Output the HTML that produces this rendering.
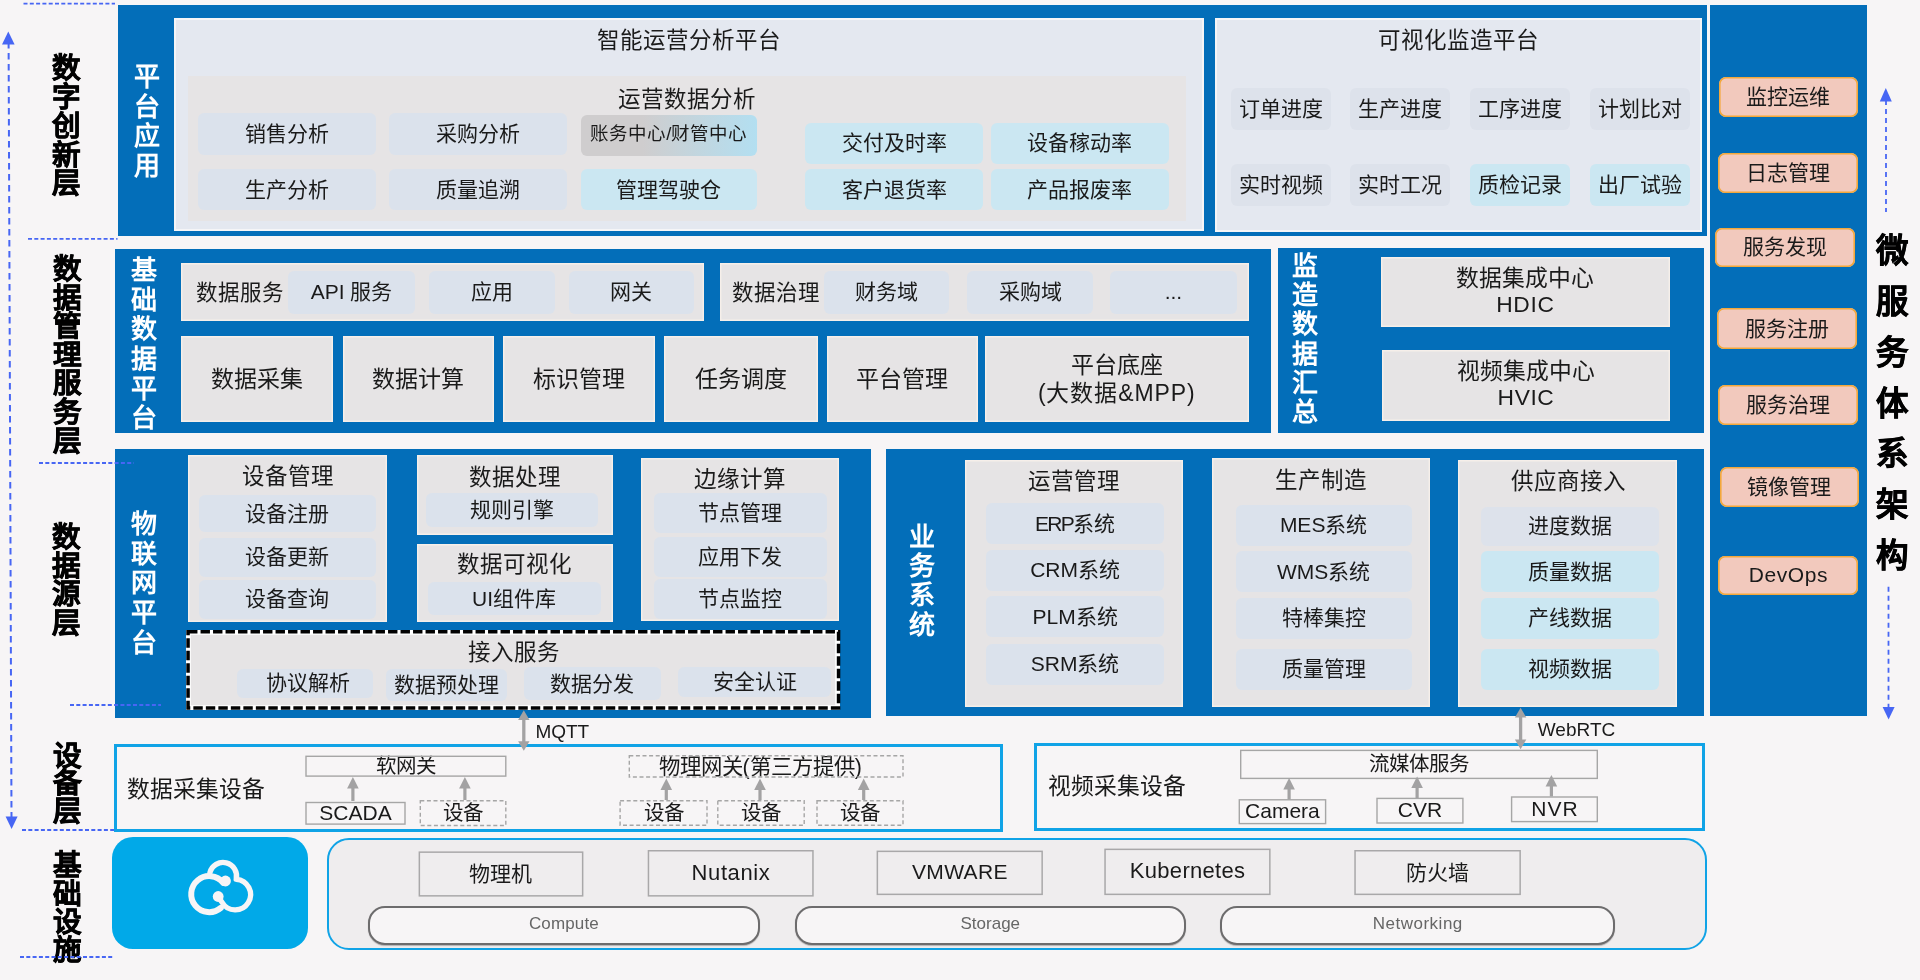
<!DOCTYPE html>
<html lang="zh-CN">
<head>
<meta charset="utf-8">
<title>架构图</title>
<style>
html,body{margin:0;padding:0;}
body{width:1920px;height:980px;overflow:hidden;background:#f7f5f6;font-family:"Liberation Sans",sans-serif;color:#1a1a1a;}
#p{position:relative;width:1920px;height:980px;overflow:hidden;will-change:transform;opacity:.999;}
#p div{position:absolute;white-space:nowrap;}
#p .c{display:flex;align-items:center;justify-content:center;text-align:center;}
#p svg{position:absolute;left:0;top:0;}
</style>
</head>
<body>
<div id="p">
<div style="left:118px;top:4.7px;width:1589px;height:231.3px;background:#036eb9;"></div>
<div style="left:173.5px;top:18px;width:1030.5px;height:212.5px;background:#e4e8f0;box-shadow:inset 0 0 0 2px #f5f5f7;"></div>
<div style="left:187.5px;top:75.5px;width:998px;height:145px;background:#e6e4e5;"></div>
<div class="c" style="left:489px;top:20px;width:400px;height:40px;font-size:22.5px;box-sizing:border-box;padding-bottom:4px;">智能运营分析平台</div>
<div class="c" style="left:487px;top:79px;width:400px;height:40px;font-size:22.5px;box-sizing:border-box;padding-bottom:4px;">运营数据分析</div>
<div class="c" style="left:198px;top:113px;width:178px;height:41.5px;background:#dbe2ec;border-radius:6px;font-size:21px;box-sizing:border-box;padding-bottom:4px;">销售分析</div>
<div class="c" style="left:389px;top:113px;width:178px;height:41.5px;background:#dbe2ec;border-radius:6px;font-size:21px;box-sizing:border-box;padding-bottom:4px;">采购分析</div>
<div class="c" style="left:198px;top:169px;width:178px;height:41px;background:#dbe2ec;border-radius:6px;font-size:21px;box-sizing:border-box;padding-bottom:4px;">生产分析</div>
<div class="c" style="left:389px;top:169px;width:178px;height:41px;background:#dbe2ec;border-radius:6px;font-size:21px;box-sizing:border-box;padding-bottom:4px;">质量追溯</div>
<div class="c" style="left:580.5px;top:114.5px;width:176.5px;height:41.5px;background:linear-gradient(90deg,#cfcdce 0%,#cfcdce 35%,#b3dff1 100%);border-radius:6px;font-size:18.5px;box-sizing:border-box;padding-bottom:6.4px;">账务中心/财管中心</div>
<div class="c" style="left:580.5px;top:169px;width:176.5px;height:41px;background:#cbe7f2;border-radius:6px;font-size:21px;box-sizing:border-box;padding-bottom:4px;">管理驾驶仓</div>
<div class="c" style="left:805px;top:122.5px;width:178px;height:41.5px;background:#cbe7f2;border-radius:6px;font-size:21px;box-sizing:border-box;padding-bottom:4px;">交付及时率</div>
<div class="c" style="left:990.5px;top:122.5px;width:178.5px;height:41.5px;background:#cbe7f2;border-radius:6px;font-size:21px;box-sizing:border-box;padding-bottom:4px;">设备稼动率</div>
<div class="c" style="left:805px;top:169px;width:178px;height:41px;background:#cbe7f2;border-radius:6px;font-size:21px;box-sizing:border-box;padding-bottom:4px;">客户退货率</div>
<div class="c" style="left:990.5px;top:169px;width:178.5px;height:41px;background:#cbe7f2;border-radius:6px;font-size:21px;box-sizing:border-box;padding-bottom:4px;">产品报废率</div>
<div style="left:117px;top:63px;width:60px;font-size:26px;line-height:29.5px;color:#fff;font-weight:bold;text-align:center;">平<br>台<br>应<br>用</div>
<div style="left:1214.5px;top:18px;width:487.7px;height:213.5px;background:#e4e8f0;box-shadow:inset 0 0 0 2px #f5f5f7;"></div>
<div class="c" style="left:1258px;top:20px;width:400px;height:40px;font-size:22.5px;box-sizing:border-box;padding-bottom:4px;">可视化监造平台</div>
<div class="c" style="left:1230.5px;top:88px;width:100.5px;height:41.5px;background:#dde2eb;border-radius:6px;font-size:21px;box-sizing:border-box;padding-bottom:4px;">订单进度</div>
<div class="c" style="left:1350px;top:88px;width:100px;height:41.5px;background:#dde2eb;border-radius:6px;font-size:21px;box-sizing:border-box;padding-bottom:4px;">生产进度</div>
<div class="c" style="left:1470px;top:88px;width:99.5px;height:41.5px;background:#dde2eb;border-radius:6px;font-size:21px;box-sizing:border-box;padding-bottom:4px;">工序进度</div>
<div class="c" style="left:1589.5px;top:88px;width:100.5px;height:41.5px;background:#dde2eb;border-radius:6px;font-size:21px;box-sizing:border-box;padding-bottom:4px;">计划比对</div>
<div class="c" style="left:1230.5px;top:164px;width:100.5px;height:41.5px;background:#dde2eb;border-radius:6px;font-size:21px;box-sizing:border-box;padding-bottom:4px;">实时视频</div>
<div class="c" style="left:1350px;top:164px;width:100px;height:41.5px;background:#dde2eb;border-radius:6px;font-size:21px;box-sizing:border-box;padding-bottom:4px;">实时工况</div>
<div class="c" style="left:1470px;top:164px;width:99.5px;height:41.5px;background:#cbe7f2;border-radius:6px;font-size:21px;box-sizing:border-box;padding-bottom:4px;">质检记录</div>
<div class="c" style="left:1589.5px;top:164px;width:100.5px;height:41.5px;background:#cbe7f2;border-radius:6px;font-size:21px;box-sizing:border-box;padding-bottom:4px;">出厂试验</div>
<div style="left:1710.2px;top:4.7px;width:156.4px;height:711.3px;background:#036eb9;"></div>
<div class="c" style="left:1718.7px;top:77px;width:139.3px;height:40.4px;background:#f2c9bd;border-radius:7px;font-size:21px;box-sizing:border-box;padding-bottom:4px;box-shadow:inset 0 0 0 1.6px #f3a83b;">监控运维</div>
<div class="c" style="left:1718.3px;top:153px;width:139.7px;height:39.6px;background:#f2c9bd;border-radius:7px;font-size:21px;box-sizing:border-box;padding-bottom:4px;box-shadow:inset 0 0 0 1.6px #f3a83b;">日志管理</div>
<div class="c" style="left:1715.2px;top:227.8px;width:139.8px;height:39.2px;background:#f2c9bd;border-radius:7px;font-size:21px;box-sizing:border-box;padding-bottom:4px;box-shadow:inset 0 0 0 1.6px #f3a83b;">服务发现</div>
<div class="c" style="left:1716.7px;top:308.4px;width:140.3px;height:40.3px;background:#f2c9bd;border-radius:7px;font-size:21px;box-sizing:border-box;padding-bottom:4px;box-shadow:inset 0 0 0 1.6px #f3a83b;">服务注册</div>
<div class="c" style="left:1718.3px;top:385px;width:139.7px;height:40.3px;background:#f2c9bd;border-radius:7px;font-size:21px;box-sizing:border-box;padding-bottom:4px;box-shadow:inset 0 0 0 1.6px #f3a83b;">服务治理</div>
<div class="c" style="left:1719.8px;top:467.3px;width:139.2px;height:39.7px;background:#f2c9bd;border-radius:7px;font-size:21px;box-sizing:border-box;padding-bottom:4px;box-shadow:inset 0 0 0 1.6px #f3a83b;">镜像管理</div>
<div class="c" style="left:1718.3px;top:555.5px;width:139.7px;height:39.8px;background:#f2c9bd;border-radius:7px;font-size:21px;box-sizing:border-box;padding-bottom:1px;letter-spacing:0.6px;padding-left:0.6px;box-shadow:inset 0 0 0 1.6px #f3a83b;">DevOps</div>
<div style="left:1862px;top:226.2px;width:60px;font-size:32.5px;line-height:50.8px;color:#000;font-weight:bold;text-align:center;-webkit-text-stroke:0.6px #000;">微<br>服<br>务<br>体<br>系<br>架<br>构</div>
<div style="left:115px;top:249px;width:1155.7px;height:184px;background:#036eb9;"></div>
<div style="left:181.3px;top:263px;width:522.7px;height:58.4px;background:#e6e4e5;box-shadow:inset 0 0 0 1.4px #f6efea;"></div>
<div style="left:720px;top:263px;width:529px;height:58.4px;background:#e6e4e5;box-shadow:inset 0 0 0 1.4px #f6efea;"></div>
<div class="c" style="left:40px;top:272.5px;width:400px;height:40px;font-size:21.5px;box-sizing:border-box;padding-bottom:4px;">数据服务</div>
<div class="c" style="left:576px;top:272.5px;width:400px;height:40px;font-size:21.5px;box-sizing:border-box;padding-bottom:4px;">数据治理</div>
<div class="c" style="left:288px;top:270.5px;width:127px;height:43.3px;background:#dbe2ec;border-radius:6px;font-size:21px;box-sizing:border-box;padding-bottom:4px;">API 服务</div>
<div class="c" style="left:429px;top:270.5px;width:125.5px;height:43.3px;background:#dbe2ec;border-radius:6px;font-size:21px;box-sizing:border-box;padding-bottom:4px;">应用</div>
<div class="c" style="left:569px;top:270.5px;width:124.8px;height:43.3px;background:#dbe2ec;border-radius:6px;font-size:21px;box-sizing:border-box;padding-bottom:4px;">网关</div>
<div class="c" style="left:824px;top:270.5px;width:125px;height:43.3px;background:#dbe2ec;border-radius:6px;font-size:21px;box-sizing:border-box;padding-bottom:4px;">财务域</div>
<div class="c" style="left:967px;top:270.5px;width:126px;height:43.3px;background:#dbe2ec;border-radius:6px;font-size:21px;box-sizing:border-box;padding-bottom:4px;">采购域</div>
<div class="c" style="left:1110px;top:270.5px;width:126.8px;height:43.3px;background:#dbe2ec;border-radius:6px;font-size:21px;box-sizing:border-box;padding-bottom:1px;">...</div>
<div class="c" style="left:181px;top:335.8px;width:152px;height:86.7px;background:#e6e4e5;border-radius:0px;font-size:23px;box-sizing:border-box;padding-bottom:1.2px;line-height:28px;box-shadow:inset 0 0 0 1.4px #f6efea;">数据采集</div>
<div class="c" style="left:342.5px;top:335.8px;width:151.3px;height:86.7px;background:#e6e4e5;border-radius:0px;font-size:23px;box-sizing:border-box;padding-bottom:1.2px;line-height:28px;box-shadow:inset 0 0 0 1.4px #f6efea;">数据计算</div>
<div class="c" style="left:503px;top:335.8px;width:152px;height:86.7px;background:#e6e4e5;border-radius:0px;font-size:23px;box-sizing:border-box;padding-bottom:1.2px;line-height:28px;box-shadow:inset 0 0 0 1.4px #f6efea;">标识管理</div>
<div class="c" style="left:664px;top:335.8px;width:153.5px;height:86.7px;background:#e6e4e5;border-radius:0px;font-size:23px;box-sizing:border-box;padding-bottom:1.2px;line-height:28px;box-shadow:inset 0 0 0 1.4px #f6efea;">任务调度</div>
<div class="c" style="left:826.8px;top:335.8px;width:151.2px;height:86.7px;background:#e6e4e5;border-radius:0px;font-size:23px;box-sizing:border-box;padding-bottom:1.2px;line-height:28px;box-shadow:inset 0 0 0 1.4px #f6efea;">平台管理</div>
<div class="c" style="left:984.5px;top:335.8px;width:264.5px;height:86.7px;background:#e6e4e5;border-radius:0px;font-size:23px;box-sizing:border-box;padding-bottom:1.2px;line-height:28px;box-shadow:inset 0 0 0 1.4px #f6efea;"><span>平台底座<br><span style="letter-spacing:.9px">(大数据&amp;MPP)</span></span></div>
<div style="left:113.8px;top:255.9px;width:60px;font-size:26px;line-height:29.7px;color:#fff;font-weight:bold;text-align:center;">基<br>础<br>数<br>据<br>平<br>台</div>
<div style="left:1278.4px;top:247.5px;width:425.4px;height:185.5px;background:#036eb9;"></div>
<div class="c" style="left:1380.8px;top:256.8px;width:289.2px;height:70.7px;background:#e6e4e5;border-radius:0px;font-size:22.8px;box-sizing:border-box;padding-bottom:1.6px;line-height:26.5px;box-shadow:inset 0 0 0 1.4px #f6efea;"><span>数据集成中心<br><span style="letter-spacing:.7px">HDIC</span></span></div>
<div class="c" style="left:1382px;top:349.5px;width:288px;height:71.3px;background:#e6e4e5;border-radius:0px;font-size:22.8px;box-sizing:border-box;padding-bottom:2px;line-height:26.5px;box-shadow:inset 0 0 0 1.4px #f6efea;"><span>视频集成中心<br><span style="letter-spacing:.6px">HVIC</span></span></div>
<div style="left:1275px;top:251.55px;width:60px;font-size:26px;line-height:29.35px;color:#fff;font-weight:bold;text-align:center;">监<br>造<br>数<br>据<br>汇<br>总</div>
<div style="left:115.2px;top:449px;width:756px;height:268.8px;background:#036eb9;"></div>
<div style="left:187.9px;top:454.8px;width:199.1px;height:167.2px;background:#e6e4e5;box-shadow:inset 0 0 0 1.4px #f6efea;"></div>
<div class="c" style="left:88px;top:455.5px;width:400px;height:40px;font-size:22.5px;box-sizing:border-box;padding-bottom:4px;">设备管理</div>
<div class="c" style="left:198.6px;top:495.3px;width:177.3px;height:37px;background:#dbe2ec;border-radius:6px;font-size:21px;box-sizing:border-box;padding-bottom:4px;">设备注册</div>
<div class="c" style="left:198.6px;top:537.7px;width:177.3px;height:39px;background:#dbe2ec;border-radius:6px;font-size:21px;box-sizing:border-box;padding-bottom:4px;">设备更新</div>
<div class="c" style="left:198.6px;top:579.7px;width:177.3px;height:39.3px;background:#dbe2ec;border-radius:6px;font-size:21px;box-sizing:border-box;padding-bottom:4px;">设备查询</div>
<div style="left:416.8px;top:455.4px;width:196.2px;height:79.6px;background:#e6e4e5;box-shadow:inset 0 0 0 1.4px #f6efea;"></div>
<div class="c" style="left:314.9px;top:457px;width:400px;height:40px;font-size:22.5px;box-sizing:border-box;padding-bottom:4px;">数据处理</div>
<div class="c" style="left:426px;top:493.3px;width:171.6px;height:34px;background:#dbe2ec;border-radius:6px;font-size:21px;box-sizing:border-box;padding-bottom:4px;">规则引擎</div>
<div style="left:416.8px;top:543.6px;width:196.2px;height:78.1px;background:#e6e4e5;box-shadow:inset 0 0 0 1.4px #f6efea;"></div>
<div class="c" style="left:314.9px;top:544.3px;width:400px;height:40px;font-size:22.5px;box-sizing:border-box;padding-bottom:4px;">数据可视化</div>
<div class="c" style="left:427.5px;top:582px;width:173.1px;height:33.1px;background:#dbe2ec;border-radius:6px;font-size:21px;box-sizing:border-box;padding-bottom:4px;">UI组件库</div>
<div style="left:641px;top:458.3px;width:197.8px;height:163.1px;background:#e6e4e5;box-shadow:inset 0 0 0 1.4px #f6efea;"></div>
<div class="c" style="left:540px;top:458.5px;width:400px;height:40px;font-size:22.5px;box-sizing:border-box;padding-bottom:4px;">边缘计算</div>
<div class="c" style="left:653.6px;top:493.3px;width:173px;height:39.9px;background:#dbe2ec;border-radius:6px;font-size:21px;box-sizing:border-box;padding-bottom:4px;">节点管理</div>
<div class="c" style="left:653.6px;top:537px;width:173px;height:39.7px;background:#dbe2ec;border-radius:6px;font-size:21px;box-sizing:border-box;padding-bottom:4px;">应用下发</div>
<div class="c" style="left:653.6px;top:579px;width:173px;height:40px;background:#dbe2ec;border-radius:6px;font-size:21px;box-sizing:border-box;padding-bottom:4px;">节点监控</div>
<div style="left:186.3px;top:630px;width:654px;height:79.7px;background:#e6e4e5;box-shadow:inset 0 0 0 4.8px #fff;"></div>
<div class="c" style="left:314px;top:632.4px;width:400px;height:40px;font-size:22.5px;box-sizing:border-box;padding-bottom:4px;">接入服务</div>
<div class="c" style="left:236.7px;top:668.5px;width:136.2px;height:29px;background:#dbe2ec;border-radius:6px;font-size:21px;box-sizing:border-box;padding-bottom:4px;padding-left:5.6px;">协议解析</div>
<div class="c" style="left:385.6px;top:669.4px;width:121.9px;height:31.6px;background:#dbe2ec;border-radius:6px;font-size:21px;box-sizing:border-box;padding-bottom:4px;">数据预处理</div>
<div class="c" style="left:523.7px;top:667.2px;width:137.3px;height:33.2px;background:#dbe2ec;border-radius:6px;font-size:21px;box-sizing:border-box;padding-bottom:4px;">数据分发</div>
<div class="c" style="left:678px;top:667.2px;width:153.4px;height:30.2px;background:#dbe2ec;border-radius:6px;font-size:21px;box-sizing:border-box;padding-bottom:4px;">安全认证</div>
<div style="left:113.8px;top:509.93px;width:60px;font-size:26px;line-height:29.75px;color:#fff;font-weight:bold;text-align:center;">物<br>联<br>网<br>平<br>台</div>
<div style="left:885.8px;top:449px;width:818.2px;height:266.8px;background:#036eb9;"></div>
<div style="left:964.5px;top:459.6px;width:218.1px;height:247.4px;background:#e6e4e5;box-shadow:inset 0 0 0 1.4px #f6efea;"></div>
<div class="c" style="left:874px;top:460.5px;width:400px;height:40px;font-size:22.5px;box-sizing:border-box;padding-bottom:4px;">运营管理</div>
<div class="c" style="left:986.3px;top:503px;width:177.5px;height:41.1px;background:#dbe2ec;border-radius:6px;font-size:21px;box-sizing:border-box;padding-bottom:4px;"><span><span style="letter-spacing:-1.7px">ERP</span>系统</span></div>
<div class="c" style="left:986.3px;top:549.5px;width:177.5px;height:41.4px;background:#dbe2ec;border-radius:6px;font-size:21px;box-sizing:border-box;padding-bottom:4px;">CRM系统</div>
<div class="c" style="left:986.3px;top:595.9px;width:177.5px;height:41.4px;background:#dbe2ec;border-radius:6px;font-size:21px;box-sizing:border-box;padding-bottom:4px;">PLM系统</div>
<div class="c" style="left:986.3px;top:643.6px;width:177.5px;height:41.4px;background:#dbe2ec;border-radius:6px;font-size:21px;box-sizing:border-box;padding-bottom:4px;">SRM系统</div>
<div style="left:1212px;top:458.3px;width:218.2px;height:248.7px;background:#e6e4e5;box-shadow:inset 0 0 0 1.4px #f6efea;"></div>
<div class="c" style="left:1121px;top:459.5px;width:400px;height:40px;font-size:22.5px;box-sizing:border-box;padding-bottom:4px;">生产制造</div>
<div class="c" style="left:1235.7px;top:505px;width:175.9px;height:40.9px;background:#dbe2ec;border-radius:6px;font-size:21px;box-sizing:border-box;padding-bottom:4px;">MES系统</div>
<div class="c" style="left:1235.7px;top:551px;width:175.9px;height:41.4px;background:#dbe2ec;border-radius:6px;font-size:21px;box-sizing:border-box;padding-bottom:4px;">WMS系统</div>
<div class="c" style="left:1235.7px;top:597.7px;width:175.9px;height:41.1px;background:#dbe2ec;border-radius:6px;font-size:21px;box-sizing:border-box;padding-bottom:4px;">特棒集控</div>
<div class="c" style="left:1235.7px;top:648.6px;width:175.9px;height:41.4px;background:#dbe2ec;border-radius:6px;font-size:21px;box-sizing:border-box;padding-bottom:4px;">质量管理</div>
<div style="left:1458px;top:459.8px;width:219.4px;height:247.2px;background:#e6e4e5;box-shadow:inset 0 0 0 1.4px #f6efea;"></div>
<div class="c" style="left:1368px;top:461px;width:400px;height:40px;font-size:22.5px;box-sizing:border-box;padding-bottom:4px;">供应商接入</div>
<div class="c" style="left:1481.1px;top:506.6px;width:178.2px;height:39.1px;background:#dde2eb;border-radius:6px;font-size:21px;box-sizing:border-box;padding-bottom:4px;">进度数据</div>
<div class="c" style="left:1481.1px;top:551px;width:178.2px;height:41.4px;background:#cbe7f2;border-radius:6px;font-size:21px;box-sizing:border-box;padding-bottom:4px;">质量数据</div>
<div class="c" style="left:1481.1px;top:597.7px;width:178.2px;height:41.2px;background:#cbe7f2;border-radius:6px;font-size:21px;box-sizing:border-box;padding-bottom:4px;">产线数据</div>
<div class="c" style="left:1481.1px;top:648.6px;width:178.2px;height:41.4px;background:#cbe7f2;border-radius:6px;font-size:21px;box-sizing:border-box;padding-bottom:4px;">视频数据</div>
<div style="left:892.4px;top:522.9px;width:60px;font-size:26px;line-height:29.2px;color:#fff;font-weight:bold;text-align:center;">业<br>务<br>系<br>统</div>
<div style="left:113.5px;top:744.4px;width:889.7px;height:88px;border:3px solid #10a3e6;box-sizing:border-box;"></div>
<div style="left:1034px;top:743px;width:671.2px;height:88px;border:3px solid #10a3e6;box-sizing:border-box;"></div>
<div class="c" style="left:-4px;top:769.7px;width:400px;height:40px;font-size:22.8px;box-sizing:border-box;padding-bottom:4px;">数据采集设备</div>
<div class="c" style="left:917.4px;top:766.9px;width:400px;height:40px;font-size:22.8px;box-sizing:border-box;padding-bottom:4px;">视频采集设备</div>
<div class="c" style="left:305.3px;top:755.6px;width:201.2px;height:21.2px;border-radius:0px;font-size:20.5px;box-sizing:border-box;padding-bottom:4px;">软网关</div>
<div class="c" style="left:305.3px;top:801.8px;width:100.4px;height:23px;border-radius:0px;font-size:21px;box-sizing:border-box;padding-bottom:1px;">SCADA</div>
<div class="c" style="left:419.6px;top:800px;width:86.9px;height:26.2px;border-radius:0px;font-size:20.5px;box-sizing:border-box;padding-bottom:4px;">设备</div>
<div class="c" style="left:628.6px;top:755.1px;width:275.1px;height:22.6px;border-radius:0px;font-size:21.4px;box-sizing:border-box;padding-bottom:4px;padding-right:12px;">物理网关(第三方提供)</div>
<div class="c" style="left:619.4px;top:800px;width:88.3px;height:25.9px;border-radius:0px;font-size:20.5px;box-sizing:border-box;padding-bottom:4px;">设备</div>
<div class="c" style="left:717.1px;top:800px;width:87.8px;height:25.9px;border-radius:0px;font-size:20.5px;box-sizing:border-box;padding-bottom:4px;">设备</div>
<div class="c" style="left:816.3px;top:800px;width:87.4px;height:25.9px;border-radius:0px;font-size:20.5px;box-sizing:border-box;padding-bottom:4px;">设备</div>
<div class="c" style="left:1240px;top:749.7px;width:358px;height:29.4px;border-radius:0px;font-size:20.5px;box-sizing:border-box;padding-bottom:4px;">流媒体服务</div>
<div class="c" style="left:1238.6px;top:799.1px;width:87.7px;height:25.2px;border-radius:0px;font-size:21px;box-sizing:border-box;padding-bottom:1px;">Camera</div>
<div class="c" style="left:1376.3px;top:797.7px;width:87.3px;height:26px;border-radius:0px;font-size:21px;box-sizing:border-box;padding-bottom:1px;">CVR</div>
<div class="c" style="left:1510.9px;top:796.3px;width:87.1px;height:26px;border-radius:0px;font-size:21px;box-sizing:border-box;padding-bottom:1px;letter-spacing:1px;padding-left:1px;">NVR</div>
<div class="c" style="left:362.3px;top:712px;width:400px;height:40px;font-size:19px;box-sizing:border-box;padding-bottom:1px;">MQTT</div>
<div class="c" style="left:1376.5px;top:710.6px;width:400px;height:40px;font-size:19px;box-sizing:border-box;padding-bottom:1px;">WebRTC</div>
<div style="left:112.3px;top:836.6px;width:195.4px;height:112.5px;background:#00a9e8;border-radius:21px;"></div>
<div style="left:326.6px;top:838.3px;width:1380.5px;height:112.1px;background:#efedee;border-radius:22px;border:2px solid #10a3e6;box-sizing:border-box;"></div>
<div class="c" style="left:418.6px;top:851.4px;width:164.8px;height:45.2px;border-radius:0px;font-size:21px;box-sizing:border-box;padding-bottom:4px;">物理机</div>
<div class="c" style="left:647.7px;top:850px;width:166px;height:46.6px;border-radius:0px;font-size:22px;box-sizing:border-box;padding-bottom:1px;letter-spacing:0.6px;padding-left:0.6px;">Nutanix</div>
<div class="c" style="left:876.6px;top:850.6px;width:166.3px;height:44.5px;border-radius:0px;font-size:21px;box-sizing:border-box;padding-bottom:1px;letter-spacing:0.4px;padding-left:0.4px;">VMWARE</div>
<div class="c" style="left:1104.3px;top:848.6px;width:166.3px;height:46.5px;border-radius:0px;font-size:22px;box-sizing:border-box;padding-bottom:1px;letter-spacing:0.3px;padding-left:0.3px;">Kubernetes</div>
<div class="c" style="left:1354.3px;top:850px;width:166.6px;height:45.1px;border-radius:0px;font-size:21px;box-sizing:border-box;padding-bottom:4px;">防火墙</div>
<div class="c" style="left:367.7px;top:906.3px;width:392.3px;height:38.8px;background:#f7f5f6;border-radius:17px;font-size:17px;box-sizing:border-box;padding-bottom:3px;letter-spacing:0.15px;padding-left:0.15px;border:2px solid #6d6c6d;box-sizing:border-box;color:#666;box-shadow:0 1px 1px rgba(0,0,0,.25);">Compute</div>
<div class="c" style="left:794.9px;top:906.3px;width:390.8px;height:38.8px;background:#f7f5f6;border-radius:17px;font-size:17px;box-sizing:border-box;padding-bottom:3px;border:2px solid #6d6c6d;box-sizing:border-box;color:#666;box-shadow:0 1px 1px rgba(0,0,0,.25);">Storage</div>
<div class="c" style="left:1220px;top:906.3px;width:395.1px;height:38.8px;background:#f7f5f6;border-radius:17px;font-size:17px;box-sizing:border-box;padding-bottom:3px;letter-spacing:0.5px;padding-left:0.5px;border:2px solid #6d6c6d;box-sizing:border-box;color:#666;box-shadow:0 1px 1px rgba(0,0,0,.25);">Networking</div>
<div style="left:36.7px;top:54.2px;width:60px;font-size:28.6px;line-height:28.8px;color:#000;font-weight:bold;text-align:center;-webkit-text-stroke:0.6px #000;">数<br>字<br>创<br>新<br>层</div>
<div style="left:37px;top:255.1px;width:60px;font-size:28.6px;line-height:28.6px;color:#000;font-weight:bold;text-align:center;-webkit-text-stroke:0.6px #000;">数<br>据<br>管<br>理<br>服<br>务<br>层</div>
<div style="left:36.7px;top:522.9px;width:60px;font-size:28.6px;line-height:28.75px;color:#000;font-weight:bold;text-align:center;-webkit-text-stroke:0.6px #000;">数<br>据<br>源<br>层</div>
<div style="left:37px;top:742.7px;width:60px;font-size:28.6px;line-height:27.8px;color:#000;font-weight:bold;text-align:center;-webkit-text-stroke:0.6px #000;">设<br>备<br>层</div>
<div style="left:37px;top:851.3px;width:60px;font-size:28.6px;line-height:28.2px;color:#000;font-weight:bold;text-align:center;-webkit-text-stroke:0.6px #000;">基<br>础<br>设<br>施</div>
<svg width="1920" height="980" viewBox="0 0 1920 980">
<rect x="306" y="756.3" width="199.8" height="19.8" fill="none" stroke="#a6a6a6" stroke-width="1.4"/>
<rect x="306" y="802.5" width="99" height="21.6" fill="none" stroke="#a6a6a6" stroke-width="1.4"/>
<rect x="420.3" y="800.7" width="85.5" height="24.8" fill="none" stroke="#a6a6a6" stroke-width="1.4" stroke-dasharray="4 2.6"/>
<rect x="629.3" y="755.8" width="273.7" height="21.2" fill="none" stroke="#a6a6a6" stroke-width="1.4" stroke-dasharray="4 2.6"/>
<rect x="620.1" y="800.7" width="86.9" height="24.5" fill="none" stroke="#a6a6a6" stroke-width="1.4" stroke-dasharray="4 2.6"/>
<rect x="717.8" y="800.7" width="86.4" height="24.5" fill="none" stroke="#a6a6a6" stroke-width="1.4" stroke-dasharray="4 2.6"/>
<rect x="817" y="800.7" width="86" height="24.5" fill="none" stroke="#a6a6a6" stroke-width="1.4" stroke-dasharray="4 2.6"/>
<rect x="1240.7" y="750.4" width="356.6" height="28" fill="none" stroke="#a6a6a6" stroke-width="1.4"/>
<rect x="1239.3" y="799.8" width="86.3" height="23.8" fill="none" stroke="#a6a6a6" stroke-width="1.4"/>
<rect x="1377" y="798.4" width="85.9" height="24.6" fill="none" stroke="#a6a6a6" stroke-width="1.4"/>
<rect x="1511.6" y="797" width="85.7" height="24.6" fill="none" stroke="#a6a6a6" stroke-width="1.4"/>
<rect x="419.35" y="852.15" width="163.3" height="43.7" fill="none" stroke="#a9a8a9" stroke-width="1.5"/>
<rect x="648.45" y="850.75" width="164.5" height="45.1" fill="none" stroke="#a9a8a9" stroke-width="1.5"/>
<rect x="877.35" y="851.35" width="164.8" height="43" fill="none" stroke="#a9a8a9" stroke-width="1.5"/>
<rect x="1105.05" y="849.35" width="164.8" height="45" fill="none" stroke="#a9a8a9" stroke-width="1.5"/>
<rect x="1355.05" y="850.75" width="165.1" height="43.6" fill="none" stroke="#a9a8a9" stroke-width="1.5"/>
<line x1="23.5" y1="3.6" x2="115" y2="3.6" stroke="#4766f4" stroke-width="1.8" stroke-dasharray="4 2.3"/>
<line x1="28" y1="238.8" x2="117.5" y2="238.8" stroke="#4766f4" stroke-width="1.8" stroke-dasharray="4 2.3"/>
<line x1="39" y1="463" x2="134" y2="463" stroke="#4766f4" stroke-width="1.8" stroke-dasharray="4 2.3"/>
<line x1="70" y1="705" x2="161" y2="705" stroke="#4766f4" stroke-width="1.8" stroke-dasharray="4 2.3"/>
<line x1="22" y1="830" x2="114" y2="830" stroke="#4766f4" stroke-width="1.8" stroke-dasharray="4 2.3"/>
<line x1="20" y1="957" x2="114" y2="957" stroke="#4766f4" stroke-width="1.8" stroke-dasharray="4 2.3"/>
<line x1="8.6" y1="42" x2="11.5" y2="818" stroke="#4766f4" stroke-width="2" stroke-dasharray="6.5 4.5"/>
<polygon points="8.3,31.5 2,44.5 14.6,44.5" fill="#4766f4"/>
<polygon points="11.6,829 5.6,816.5 17.6,816.5" fill="#4766f4"/>
<line x1="1886" y1="100" x2="1886" y2="212" stroke="#4766f4" stroke-width="1.8" stroke-dasharray="5 4"/>
<polygon points="1885.8,88 1879.8,101.5 1891.8,101.5" fill="#4766f4"/>
<line x1="1888.5" y1="586.7" x2="1888.5" y2="708" stroke="#4766f4" stroke-width="1.8" stroke-dasharray="5 4"/>
<polygon points="1888.6,719.5 1882.6,707 1894.6,707" fill="#4766f4"/>
<line x1="523.8" y1="718.9" x2="523.8" y2="742.2" stroke="#a3a2a3" stroke-width="3.3"/>
<polygon points="523.8,710.3 518.1,719.9 529.5,719.9" fill="#a3a2a3"/>
<polygon points="523.8,750.8 518.1,741.2 529.5,741.2" fill="#a3a2a3"/>
<line x1="1520.6" y1="716.4" x2="1520.6" y2="740.6" stroke="#a3a2a3" stroke-width="3.3"/>
<polygon points="1520.6,707.8 1514.9,717.4 1526.3,717.4" fill="#a3a2a3"/>
<polygon points="1520.6,749.2 1514.9,739.6 1526.3,739.6" fill="#a3a2a3"/>
<line x1="352.9" y1="787.5" x2="352.9" y2="801" stroke="#a3a2a3" stroke-width="3.2"/>
<polygon points="352.9,777 347.1,788.5 358.7,788.5" fill="#a3a2a3"/>
<line x1="464.9" y1="787.5" x2="464.9" y2="800" stroke="#a3a2a3" stroke-width="3.2"/>
<polygon points="464.9,777 459.1,788.5 470.7,788.5" fill="#a3a2a3"/>
<line x1="666.3" y1="789.1" x2="666.3" y2="800" stroke="#a3a2a3" stroke-width="3.2"/>
<polygon points="666.3,778.6 660.5,790.1 672.1,790.1" fill="#a3a2a3"/>
<line x1="760" y1="789.1" x2="760" y2="800" stroke="#a3a2a3" stroke-width="3.2"/>
<polygon points="760,778.6 754.2,790.1 765.8,790.1" fill="#a3a2a3"/>
<line x1="863.7" y1="789.1" x2="863.7" y2="800" stroke="#a3a2a3" stroke-width="3.2"/>
<polygon points="863.7,778.6 857.9,790.1 869.5,790.1" fill="#a3a2a3"/>
<line x1="1289.1" y1="788.5" x2="1289.1" y2="799.5" stroke="#a3a2a3" stroke-width="3.2"/>
<polygon points="1289.1,778 1283.3,789.5 1294.9,789.5" fill="#a3a2a3"/>
<line x1="1417.1" y1="787" x2="1417.1" y2="798" stroke="#a3a2a3" stroke-width="3.2"/>
<polygon points="1417.1,776.5 1411.3,788 1422.9,788" fill="#a3a2a3"/>
<line x1="1551.4" y1="785.5" x2="1551.4" y2="796.5" stroke="#a3a2a3" stroke-width="3.2"/>
<polygon points="1551.4,775 1545.6,786.5 1557.2,786.5" fill="#a3a2a3"/>
<rect x="188.05" y="631.75" width="650.5" height="76.2" fill="none" stroke="#000" stroke-width="3.5" stroke-dasharray="9.4 3.1"/>
<g fill="none" stroke="#f7f5f6" stroke-linecap="round" stroke-linejoin="round">
<path d="M223.2 882.8 A18 18 0 1 0 220.8 907.9" stroke-width="6"/>
<path d="M209.9 872.7 A13.5 13.5 0 0 1 236.2 879.3 A15.3 15.3 0 1 1 222 902.2 L219 898" stroke-width="5.3"/>
</g>
<circle cx="225.5" cy="881" r="5.4" fill="#f7f5f6"/><circle cx="218.2" cy="896.5" r="5.4" fill="#f7f5f6"/>
</svg>
</div>
</body>
</html>
